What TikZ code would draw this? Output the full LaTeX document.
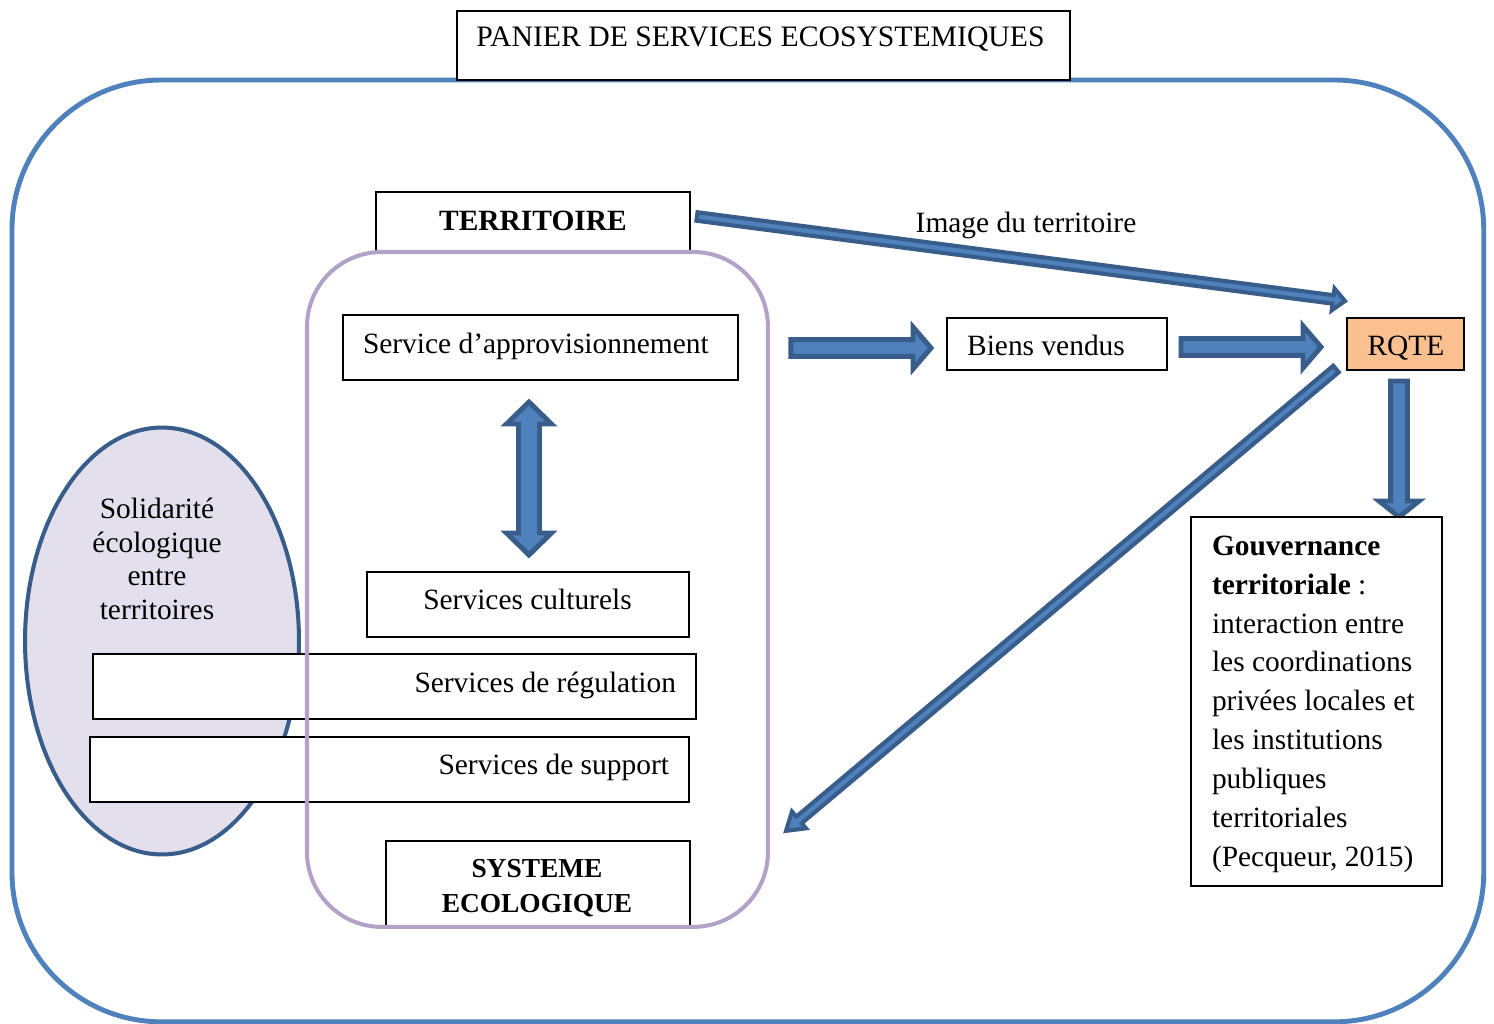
\documentclass[tikz,border=0pt]{standalone}
\usepackage{fontspec}
\setmainfont{Liberation Serif}
\usetikzlibrary{calc,shapes.geometric}
\definecolor{outerblue}{HTML}{4F81BD}
\definecolor{arrfill}{HTML}{4F81BD}
\definecolor{arrline}{HTML}{385D8A}
\definecolor{purp}{HTML}{B3A2C7}
\definecolor{ellfill}{HTML}{E4DFEC}
\definecolor{rqtefill}{HTML}{FAC090}
\newcommand\pxu{0.56906pt}
\newcommand\fsz{\fontsize{16.75pt}{22.1pt}\selectfont}
\newcommand\fsol{\fontsize{16.75pt}{19.2pt}\selectfont}
\newcommand\fsys{\fontsize{15.6pt}{19.9pt}\selectfont\bfseries}
% single block arrow: start, end, half shaft, half head, head length, style
\newcommand\blockarrow[6]{%
  \path (#1); \pgfgetlastxy{\baAx}{\baAy}
  \path (#2); \pgfgetlastxy{\baBx}{\baBy}
  \pgfmathsetmacro\baAng{atan2(\baBy-\baAy,\baBx-\baAx)}
  \pgfmathsetmacro\baLen{veclen(\baBx-\baAx,\baBy-\baAy)/0.56906}
  \begin{scope}[shift={(#1)}, rotate=\baAng, x=\pxu, y=\pxu]
    \draw[#6] (0,-#3) -- (\baLen-#5,-#3) -- (\baLen-#5,-#4) -- (\baLen,0)
      -- (\baLen-#5,#4) -- (\baLen-#5,#3) -- (0,#3) -- cycle;
  \end{scope}}
% double block arrow
\newcommand\dblarrow[6]{%
  \path (#1); \pgfgetlastxy{\baAx}{\baAy}
  \path (#2); \pgfgetlastxy{\baBx}{\baBy}
  \pgfmathsetmacro\baAng{atan2(\baBy-\baAy,\baBx-\baAx)}
  \pgfmathsetmacro\baLen{veclen(\baBx-\baAx,\baBy-\baAy)/0.56906}
  \begin{scope}[shift={(#1)}, rotate=\baAng, x=\pxu, y=\pxu]
    \draw[#6] (0,0) -- (#5,#4) -- (#5,#3) -- (\baLen-#5,#3) -- (\baLen-#5,#4)
      -- (\baLen,0) -- (\baLen-#5,-#4) -- (\baLen-#5,-#3) -- (#5,-#3)
      -- (#5,-#4) -- cycle;
  \end{scope}}
\begin{document}
\begin{tikzpicture}[x=0.02cm,y=-0.02cm,
  every node/.style={font=\fsz, inner sep=0pt, outer sep=0pt},
  sz/.style 2 args={minimum width=#1*\pxu, minimum height=#2*\pxu},
  box/.style={draw=black, line width=1.13pt, fill=white, anchor=north west},
  lbl/.style={anchor=base},
  bigarrow/.style={fill=arrfill, draw=arrline, line width=2.8pt, line join=miter},
  thinarrow/.style={fill=arrfill, draw=arrline, line width=2.3pt, line join=miter}]
\useasboundingbox (0,0) rectangle (1494,1024);
% outer frame and title
\node[draw=outerblue, line width=2.8pt, rounded corners=85pt, sz={1472}{942}, anchor=north west] (frame) at (12,80) {};
\node[box, sz={613}{69}] (title) at (457,11) {};
\node[lbl, font=\fontsize{16.9pt}{20pt}\selectfont] (titlet) at (760.5,47) {PANIER DE SERVICES ECOSYSTEMIQUES};
% ellipse
\node[ellipse, draw=arrline, fill=ellfill, line width=2.3pt, sz={274}{427}] (ell) at (162,641) {};
\node[anchor=north, align=center, font=\fsol] (solt) at (157,498) {Solidarité\\écologique\\entre\\territoires};
% service boxes
\node[box, sz={603}{65}] (regul) at (93,654) {};
\node[lbl, anchor=base east] (regult) at (676,692) {Services de régulation};
\node[box, sz={599}{65}] (supp) at (90,737) {};
\node[lbl, anchor=base east] (suppt) at (669,774) {Services de support};
\node[box, sz={314}{60}] (terr) at (376,192) {};
\node[lbl, font=\fsz\bfseries] (terrt) at (533,230) {TERRITOIRE};
\node[box, sz={395}{65}] (appro) at (343,315) {};
\node[lbl, anchor=base west] (approt) at (363,353) {Service d’approvisionnement};
\node[box, sz={322}{65}] (cult) at (367,572) {};
\node[lbl] (cultt) at (527.5,609) {Services culturels};
\node[box, sz={304}{86}] (syst) at (386,841) {};
\node[lbl, font=\fsys] (systt1) at (537,877) {SYSTEME};
\node[lbl, font=\fsys] (systt2) at (537,912) {ECOLOGIQUE};
% purple ecological system frame
\node[draw=purp, line width=2.3pt, rounded corners=42.5pt, sz={461}{675}, anchor=north west] (purple) at (307,252) {};
% right side boxes
\node[box, sz={220}{52}] (bien) at (947,318) {};
\node[lbl] (bient) at (1046,355) {Biens vendus};
\node[box, fill=rqtefill, sz={117}{52}] (rqte) at (1347,318) {};
\node[lbl] (rqtet) at (1406,355) {RQTE};
% arrow end points
\coordinate (aAs) at ($(purple.east |- appro.east)+(23,0.5)$);
\coordinate (aAe) at ($(bien.west)+(-16,4)$);
\coordinate (aBs) at ($(bien.east)+(14,3)$);
\coordinate (aBe) at ($(rqte.west)+(-26,3)$);
\coordinate (aCs) at ($(rqte.south)+(-6.5,11)$);
\coordinate (aCe) at ($(rqte.south)+(-6.5,147)$);
\coordinate (aDs) at ($(cult.north |- appro.south)+(1,22)$);
\coordinate (aDe) at ($(cult.north)+(1,-17)$);
\coordinate (aEs) at ($(terr.east)+(7,-5.5)$);
\coordinate (aEe) at ($(rqte.north west)+(-2,-17)$);
\coordinate (aFs) at ($(rqte.south west)+(-11,-1)$);
\coordinate (aFe) at ($(purple.east)+(18,241.5)$);
% arrows
\blockarrow{aAs}{aAe}{8.3}{21}{18}{bigarrow}
\blockarrow{aBs}{aBe}{8.3}{21}{18}{bigarrow}
\blockarrow{aCs}{aCe}{8.3}{20}{16}{bigarrow}
\dblarrow{aDs}{aDe}{10.5}{22.5}{22}{bigarrow}
\blockarrow{aEs}{aEe}{4.3}{11}{12}{thinarrow}
\blockarrow{aFs}{aFe}{4.3}{11}{17}{thinarrow}
\node[lbl] (imgt) at (1026,232) {Image du territoire};
% governance box
\node[box, sz={251}{369}] (gov) at (1191,517) {};
\node[anchor=north west, align=left] (govt) at (1212,536) {\textbf{Gouvernance}\\\textbf{territoriale} :\\interaction entre\\les coordinations\\privées locales et\\les institutions\\publiques\\territoriales\\(Pecqueur, 2015)};
\end{tikzpicture}
\end{document}
